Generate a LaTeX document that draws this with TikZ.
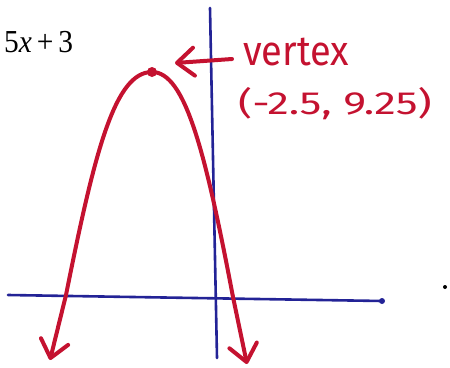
\documentclass[tikz,border=0pt]{standalone}
\usepackage{fontspec}
\newfontfamily\hand{Fira Sans}
\newfontfamily\printed{Liberation Serif}
\usetikzlibrary{arrows.meta}
\definecolor{marker}{RGB}{196,18,48}
\definecolor{pen}{RGB}{35,35,150}
\begin{document}
\begin{tikzpicture}[x=1pt,y=-1pt,
  axis/.style={pen, line width=2.6pt, line cap=round},
  curve/.style={marker, line width=4pt, line cap=round, line join=round},
  barbtip/.tip={Straight Barb[length=17pt,width=28pt,line cap=round,line join=round]},
  handtext/.style={marker, inner sep=0pt, font=\hand},
]
\useasboundingbox (0,0) rectangle (450,367);
% axes
\coordinate (yaxtop) at (210,8);
\coordinate (yaxbot) at (217,358);
\coordinate (xaxleft) at (8,295);
\coordinate (xaxright) at (382,301);
\draw[axis] (yaxtop) -- (yaxbot);
\draw[axis] (xaxleft) -- (xaxright);
\fill[pen] (xaxright) circle (3pt);
% stray dot
\coordinate (dot) at (445,287);
\fill[black] (dot) circle (2pt);
% equation fragment
\node[anchor=base west, inner sep=0pt, xscale=0.92, transform shape, font=\printed\fontsize{32}{36}\selectfont] (eq) at (4,52) {5\textit{x}\,+\,3};
% parabola
\coordinate (ltip) at (50,360);
\coordinate (lcross) at (66,295);
\coordinate (vtx) at (152,72);
\coordinate (rcross) at (233,297);
\coordinate (rtip) at (247,364);
\draw[curve, barbtip-barbtip] (ltip) -- (lcross)
  .. controls (95,150) and (115,72) .. (vtx)
  .. controls (185,72) and (205,150) .. (rcross) -- (rtip);
\fill[marker] (vtx) circle (5pt);
% labels
\node[handtext, anchor=west, font=\hand\fontsize{38}{40}\selectfont, yscale=1.1, transform shape] (vlabel) at (243,52) {vertex};
\node[handtext, font=\hand\fontsize{32}{36}\selectfont, xscale=1.36, transform shape] (clabel) at (335,104) {(-2.5, 9.25)};
\coordinate (arrstart) at (232,59);
\coordinate (arrtip) at (175,63);
\draw[curve, -barbtip] (arrstart) -- (arrtip);
\end{tikzpicture}
\end{document}
